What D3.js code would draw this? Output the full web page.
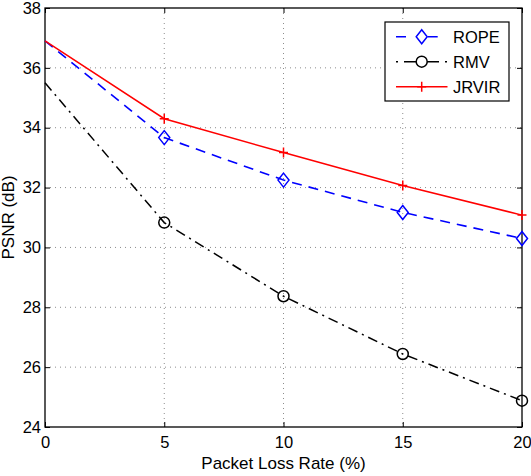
<!DOCTYPE html>
<html>
<head>
    <meta charset="utf-8">
    <style>
        html, body {
            margin: 0;
            padding: 0;
            background: #fff;
        }

        svg {
            display: block;
            font-family: "Liberation Sans", Arial, sans-serif;
        }
    </style>
</head>
<body>
<div id="chart"></div>
<script src="https://cdn.jsdelivr.net/npm/d3@7"></script>
<script>
    "use strict";

    const WIDTH = 531;
    const HEIGHT = 476;
    const LEFT = 45;
    const RIGHT = 522;
    const TOP = 8;
    const BOTTOM = 427;

    // packet loss rate (%)
    var lossRates = [0, 5, 10, 15, 20];
    var xTicks = [0, 5, 10, 15, 20];
    var yTicks = [24, 26, 28, 30, 32, 34, 36, 38];

    // PSNR (dB) for each method
    var ropeValues = [36.9, 33.67, 32.25, 31.17, 30.3];
    var rmvValues = [35.5, 30.83, 28.37, 26.44, 24.88];
    var jrvirValues = [36.9, 34.3, 33.17, 32.07, 31.08];

    var seriesNames = ["ROPE", "RMV", "JRVIR"];

    var x = d3.scaleLinear().domain([0, 20]).range([LEFT, RIGHT]);
    var y = d3.scaleLinear().domain([24, 38]).range([BOTTOM, TOP]);

    var svg = d3.select("#chart").append("svg")
        .attr("width", WIDTH)
        .attr("height", HEIGHT);

    // dotted grid
    var grid = svg.append("g")
        .attr("stroke", "#8c8c8c")
        .attr("stroke-width", 1)
        .attr("stroke-dasharray", "1,4");

    grid.selectAll(".gx")
        .data(xTicks.slice(1, -1))
        .enter()
        .append("line")
        .attr("x1", function (d) { return x(d); })
        .attr("x2", function (d) { return x(d); })
        .attr("y1", TOP)
        .attr("y2", BOTTOM);

    grid.selectAll(".gy")
        .data(yTicks.slice(1, -1))
        .enter()
        .append("line")
        .attr("y1", function (d) { return y(d); })
        .attr("y2", function (d) { return y(d); })
        .attr("x1", LEFT)
        .attr("x2", RIGHT);

    // axes with inward ticks on all four sides
    function styleAxis(g) {
        g.select(".domain").remove();
        g.selectAll("line").attr("stroke", "#000").attr("stroke-width", 1);
        g.selectAll("text")
            .attr("fill", "#000")
            .style("font-size", "16.5px")
            .style("font-family", "'Liberation Sans', Arial, sans-serif");
    }

    svg.append("g")
        .attr("transform", "translate(0," + BOTTOM + ")")
        .call(d3.axisBottom(x).tickValues(xTicks).tickSize(-5).tickPadding(9))
        .call(styleAxis);

    svg.append("g")
        .attr("transform", "translate(0," + TOP + ")")
        .call(d3.axisTop(x).tickValues(xTicks).tickSize(-5).tickFormat(""))
        .call(styleAxis);

    svg.append("g")
        .attr("transform", "translate(" + LEFT + ",0)")
        .call(d3.axisLeft(y).tickValues(yTicks).tickSize(-5).tickPadding(4))
        .call(styleAxis);

    svg.append("g")
        .attr("transform", "translate(" + RIGHT + ",0)")
        .call(d3.axisRight(y).tickValues(yTicks).tickSize(-5).tickFormat(""))
        .call(styleAxis);

    svg.append("rect")
        .attr("x", LEFT)
        .attr("y", TOP)
        .attr("width", RIGHT - LEFT)
        .attr("height", BOTTOM - TOP)
        .attr("fill", "none")
        .attr("stroke", "#000")
        .attr("stroke-width", 1.3);

    // axis labels
    svg.append("text")
        .attr("x", (LEFT + RIGHT) / 2)
        .attr("y", 469)
        .attr("text-anchor", "middle")
        .style("font-size", "17px")
        .text("Packet Loss Rate (%)");

    svg.append("text")
        .attr("transform", "translate(14," + (TOP + BOTTOM) / 2 + ") rotate(-90)")
        .attr("text-anchor", "middle")
        .style("font-size", "17px")
        .text("PSNR (dB)");

    // series
    var series = [
        {name: seriesNames[0], values: ropeValues, color: "#0000ff", dash: "10,7", width: 1.6, marker: "diamond"},
        {name: seriesNames[1], values: rmvValues, color: "#000000", dash: "10,5,2,5", width: 1.5, marker: "circle"},
        {name: seriesNames[2], values: jrvirValues, color: "#ff0000", dash: null, width: 1.5, marker: "plus"}
    ];

    var line = d3.line()
        .x(function (d) { return x(d.rate); })
        .y(function (d) { return y(d.value); });

    function toPoints(s) {
        return lossRates.map(function (r, i) {
            return {rate: r, value: s.values[i]};
        });
    }

    function drawMarker(g, type, color, fill) {
        if (type === "diamond") {
            g.append("path")
                .attr("d", "M0,-7L5.5,0L0,7L-5.5,0Z")
                .attr("fill", fill)
                .attr("stroke", color)
                .attr("stroke-width", 1.5);
        } else if (type === "circle") {
            g.append("circle")
                .attr("r", 5.5)
                .attr("fill", fill)
                .attr("stroke", color)
                .attr("stroke-width", 1.5);
        } else {
            g.append("path")
                .attr("d", "M-4.5,0H4.5M0,-5V5")
                .attr("fill", "none")
                .attr("stroke", color)
                .attr("stroke-width", 1.5);
        }
    }

    series.forEach(function (s) {
        var pts = toPoints(s);
        svg.append("path")
            .datum(pts)
            .attr("d", line)
            .attr("fill", "none")
            .attr("stroke", s.color)
            .attr("stroke-width", s.width)
            .attr("stroke-dasharray", s.dash);

        // markers only from 5% onwards
        svg.selectAll(".m-" + s.marker)
            .data(pts.filter(function (d) { return d.rate > 0; }))
            .enter()
            .append("g")
            .attr("class", "m-" + s.marker)
            .attr("transform", function (d) {
                return "translate(" + x(d.rate) + "," + y(d.value) + ")";
            })
            .each(function () {
                drawMarker(d3.select(this), s.marker, s.color, "none");
            });
    });

    // legend
    var legend = svg.append("g");
    legend.append("rect")
        .attr("x", 385)
        .attr("y", 22)
        .attr("width", 124)
        .attr("height", 79)
        .attr("fill", "#fff")
        .attr("stroke", "#000")
        .attr("stroke-width", 1.2);

    var legendDash = ["10,21.7,10", "2,6,35,6,2", null];

    series.forEach(function (s, i) {
        var ly = 36.7 + i * 25;
        var row = legend.append("g").attr("transform", "translate(0," + ly + ")");
        row.append("line")
            .attr("x1", 396)
            .attr("x2", 447.5)
            .attr("stroke", s.color)
            .attr("stroke-width", s.width)
            .attr("stroke-dasharray", legendDash[i]);
        var mk = row.append("g").attr("transform", "translate(421.7,0)");
        drawMarker(mk, s.marker, s.color, s.marker === "plus" ? "none" : "#fff");
        row.append("text")
            .attr("x", 453)
            .attr("y", 0)
            .attr("dy", "0.36em")
            .style("font-size", "16.5px")
            .text(s.name);
    });
</script>
</body>
</html>
